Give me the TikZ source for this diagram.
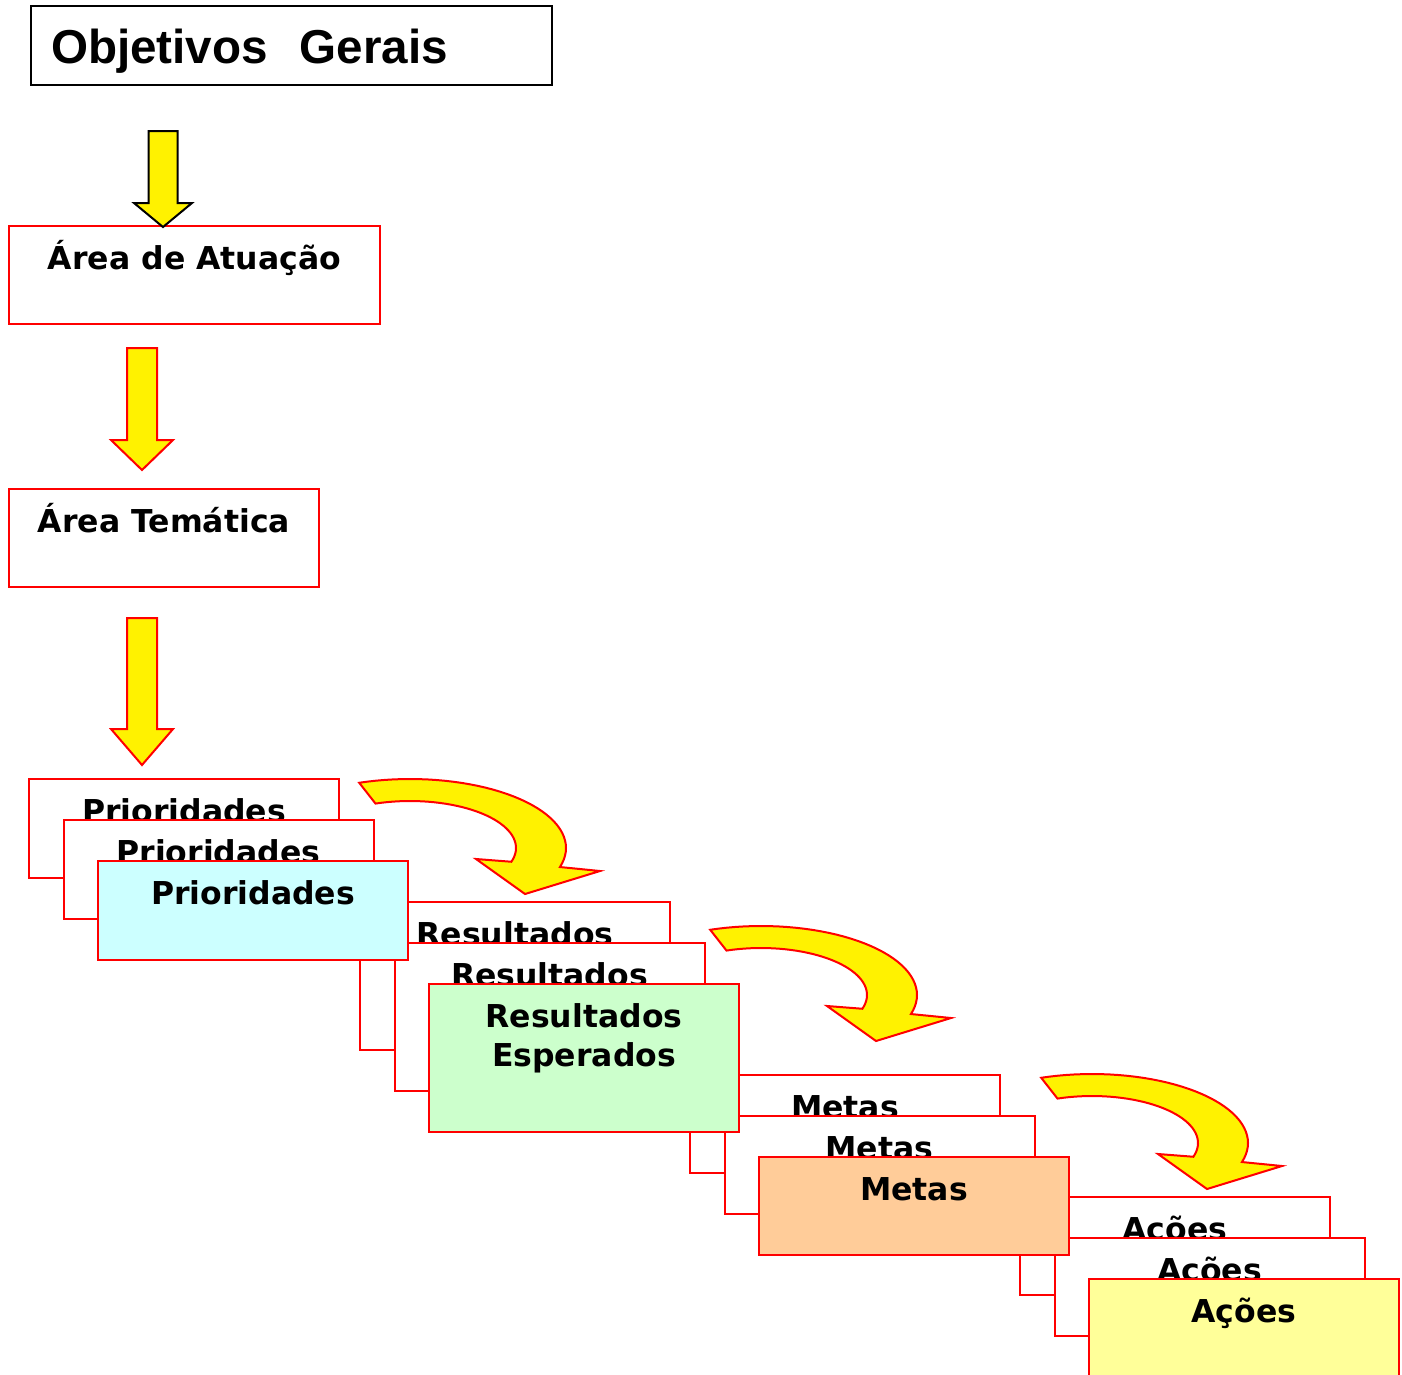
\documentclass[tikz,border=0pt]{standalone}
\usepackage{fontspec}
\setmainfont{DejaVu Sans}
\newfontfamily\titlefont{Liberation Sans}

\definecolor{priofill}{HTML}{CCFFFF}
\definecolor{resfill}{HTML}{CCFFCC}
\definecolor{metafill}{HTML}{FFCC99}
\definecolor{acaofill}{HTML}{FFFF99}

\tikzset{
  card/.style={draw=red, fill=white, anchor=north west, align=center,
    minimum width=310pt, inner xsep=0pt, inner ysep=0pt,
    text height=43pt, text depth=55pt,
    font=\bfseries\fontsize{31.5}{39}\selectfont},
  bendarrow/.pic={
    \draw[pic actions] plot[domain=251:376, samples=40] ({50+156*cos(\x)},{65+69*sin(\x)})
      -- (240,88) -- (165,111) -- (116,76)
      -- plot[domain=377:251, samples=40] ({50+106*cos(\x)},{65+47*sin(\x)}) -- cycle;
  }
}

\begin{document}
\begin{tikzpicture}[x=1pt, y=-1pt, line width=2pt]

\useasboundingbox (0,0) rectangle (1402,1374);

% Title box
\node[draw=black, anchor=north west, align=left, text width=481pt,
  inner xsep=20pt, inner ysep=0pt, text height=57pt, text depth=22pt,
  font=\titlefont\bfseries\fontsize{47.6}{57}\selectfont] (objetivos) at (30,5) {Objetivos\ \ Gerais};

% Areas
\node[card, minimum width=371pt] (atuacao) at (8,225) {Área de Atuação};
\node[card] (tematica) at (8,488) {Área Temática};

% Straight block arrows
\foreach \cx/\ya/\yb/\yc/\sw/\hw/\col in {163/131/203/227/14.5/29/black, 142/348/440/470/15/31/red, 142/618/729/765/15/31/red}
  \draw[draw=\col, fill=yellow] (\cx-\sw,\ya) -- (\cx+\sw,\ya) -- (\cx+\sw,\yb) -- (\cx+\hw,\yb)
    -- (\cx,\yc) -- (\cx-\hw,\yb) -- (\cx-\sw,\yb) -- cycle;

% Stacks, last one first so the earlier ones lie on top
\foreach \nm/\sx/\sy/\tot/\hgt/\col/\back/\front in {acoes/1019/1196/98/43/acaofill/Ações/Ações,
    metas/689/1074/98/43/metafill/Metas/Metas,
    result/359/901/148/82/resfill/Resultados/Resultados\\Esperados,
    prior/28/778/99/43/priofill/Prioridades/Prioridades}
  \foreach \i/\f/\t/\h in {1/white/\back/43, 2/white/\back/43, 3/\col/\front/\hgt} {
    \pgfmathsetmacro\dd{\tot-\h}
    \node[card, fill=\f, text height=\h pt, text depth=\dd pt] (\nm-\i) at (\sx+34.5*\i-34.5, \sy+41*\i-41) {\t};
  }

% Bent arrows
\foreach \ax/\ay [count=\k] in {360/783, 711/930, 1042/1078}
  \pic[draw=red, fill=yellow] (bend\k) at (\ax,\ay) {bendarrow};

\end{tikzpicture}
\end{document}
